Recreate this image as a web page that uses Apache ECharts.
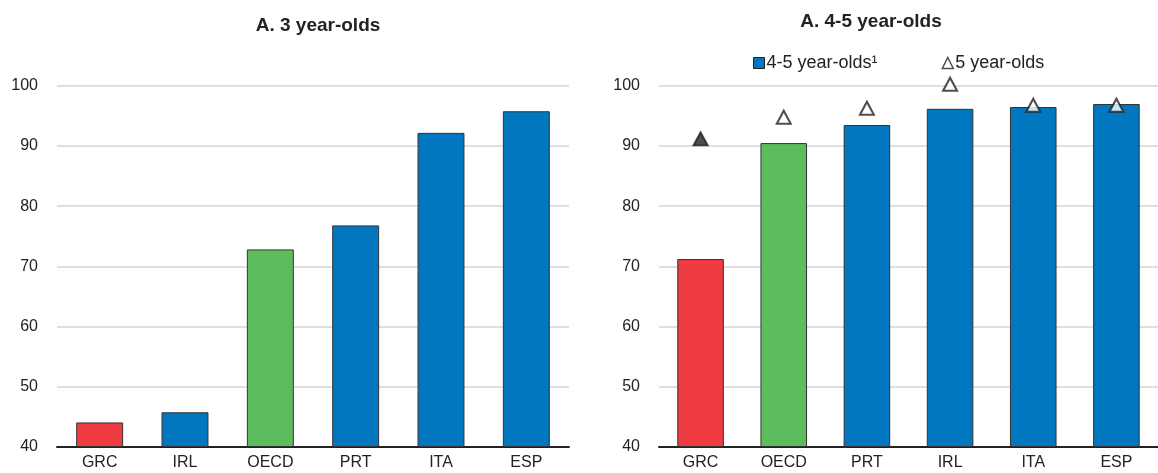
<!DOCTYPE html>
<html><head><meta charset="utf-8">
<script src="https://cdn.jsdelivr.net/npm/echarts@6/dist/echarts.min.js"></script>
<style>html,body{margin:0;padding:0;background:#fff}#c{width:1158px;height:473px}</style>
</head><body><div id="c"></div>
<script>
const leftTitle = 'A. 3 year-olds';
const rightTitle = 'A. 4-5 year-olds';
const leftCats = ['GRC','IRL','OECD','PRT','ITA','ESP'];
const leftVals = [44.0, 45.7, 72.8, 76.8, 92.2, 95.8];
const rightCats = ['GRC','OECD','PRT','IRL','ITA','ESP'];
const rightBars = [71.2, 90.5, 93.5, 96.2, 96.5, 97.0];
const rightTri = [91.2, 94.8, 96.3, 100.3, 96.8, 96.8];
const barName = '4-5 year-olds\u00B9';
const triName = '5 year-olds';
const yTicks = [40, 50, 60, 70, 80, 90, 100];

const RED = '#EF3B42', GREEN = '#5DBD5D', BLUE = '#0077BF';
function colorFor(c){ return c === 'GRC' ? RED : (c === 'OECD' ? GREEN : BLUE); }
const FONT = '"Liberation Sans Narrow","Liberation Sans",Arial,sans-serif';

const yAxisBase = (gi) => ({
  gridIndex: gi, type: 'value', min: yTicks[0], max: yTicks[yTicks.length-1], interval: 10,
  axisLine: {show: false}, axisTick: {show: false},
  axisLabel: {color: '#222', fontSize: 16, fontFamily: FONT, margin: 19},
  splitLine: {lineStyle: {color: '#d4d4d4', width: 1.5}}
});
const xAxisBase = (gi, cats) => ({
  gridIndex: gi, type: 'category', data: cats,
  axisLine: {lineStyle: {color: '#222', width: 2}}, axisTick: {show: false},
  axisLabel: {color: '#222', fontSize: 16, fontFamily: FONT, margin: 8}
});

const chart = echarts.init(document.getElementById('c'));
chart.setOption({
  animation: false,
  title: [
    {text: leftTitle, left: 313, top: 11, textAlign: 'center',
     textStyle: {fontSize: 19, fontWeight: 'bold', color: '#222', fontFamily: FONT}},
    {text: rightTitle, left: 866, top: 7, textAlign: 'center',
     textStyle: {fontSize: 19, fontWeight: 'bold', color: '#222', fontFamily: FONT}}
  ],
  legend: {
    left: 748, top: 49, itemGap: 64, itemWidth: 11, itemHeight: 11,
    textStyle: {fontSize: 18, color: '#222', fontFamily: FONT, padding: [0,0,0,-3]},
    data: [
      {name: barName, icon: 'rect', itemStyle: {color: BLUE, borderColor: '#222', borderWidth: 1}},
      {name: triName, icon: 'triangle', itemStyle: {color: '#fff', borderColor: '#222', borderWidth: 1.5}}
    ]
  },
  grid: [
    {left: 57, width: 512, top: 86, bottom: 26.5},
    {left: 659, width: 505, top: 86, bottom: 26.5}
  ],
  xAxis: [xAxisBase(0, leftCats), xAxisBase(1, rightCats)],
  yAxis: [yAxisBase(0), yAxisBase(1)],
  series: [
    {type: 'bar', name: 'left', xAxisIndex: 0, yAxisIndex: 0, barWidth: '55%',
     data: leftVals.map((v, i) => ({value: v, itemStyle: {color: colorFor(leftCats[i])}})),
     itemStyle: {borderColor: '#333', borderWidth: 1}},
    {type: 'bar', name: barName, xAxisIndex: 1, yAxisIndex: 1, barWidth: '56%',
     data: rightBars.map((v, i) => ({value: v, itemStyle: {color: colorFor(rightCats[i])}})),
     itemStyle: {color: BLUE, borderColor: '#333', borderWidth: 1}},
    {type: 'scatter', name: triName, xAxisIndex: 1, yAxisIndex: 1, clip: false, z: 5,
     symbol: 'triangle', symbolSize: [14, 13],
     itemStyle: {color: '#fff', borderColor: '#222', borderWidth: 2},
     data: rightTri.map((v, i) => rightCats[i] === 'GRC'
        ? {value: v, itemStyle: {color: '#222', borderColor: '#222'}}
        : {value: v})}
  ]
});
</script></body></html>
